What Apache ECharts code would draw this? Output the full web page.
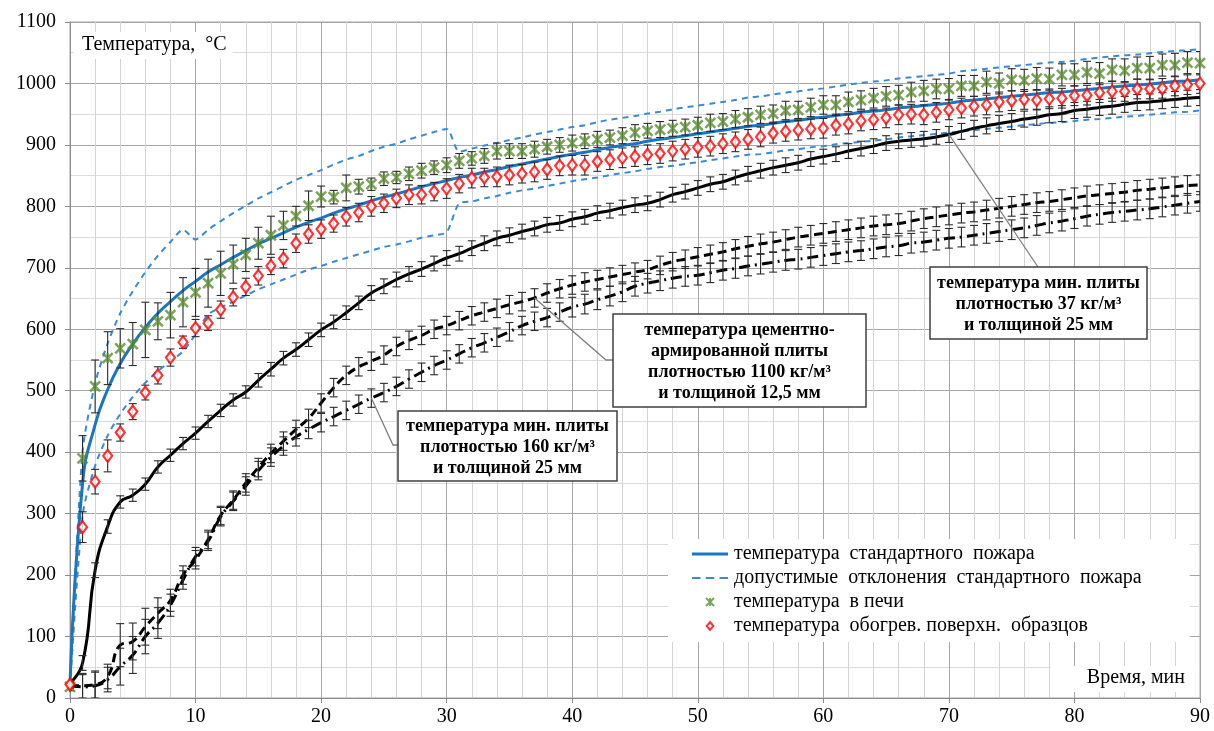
<!DOCTYPE html>
<html>
<head>
<meta charset="utf-8">
<script src="https://cdn.jsdelivr.net/npm/echarts@6/dist/echarts.min.js"></script>
<style>
  html, body { margin: 0; padding: 0; background: #ffffff; }
  #chart { width: 1214px; height: 731px; }
</style>
</head>
<body>
<div id="chart"></div>
<script>
// Время испытания, мин (отсчёты каждую минуту)
const minutes = [
  0, 1, 2, 3, 4, 5, 6, 7, 8, 9,
  10, 11, 12, 13, 14, 15, 16, 17, 18, 19,
  20, 21, 22, 23, 24, 25, 26, 27, 28, 29,
  30, 31, 32, 33, 34, 35, 36, 37, 38, 39,
  40, 41, 42, 43, 44, 45, 46, 47, 48, 49,
  50, 51, 52, 53, 54, 55, 56, 57, 58, 59,
  60, 61, 62, 63, 64, 65, 66, 67, 68, 69,
  70, 71, 72, 73, 74, 75, 76, 77, 78, 79,
  80, 81, 82, 83, 84, 85, 86, 87, 88, 89,
  90
];

// Стандартный температурный режим пожара, °C
const standardFire = [
  20, 349, 445, 502, 544, 576, 603, 626, 645, 663,
  678, 693, 705, 717, 728, 739, 748, 757, 766, 774,
  781, 789, 796, 802, 809, 815, 820, 826, 832, 837,
  842, 847, 851, 856, 860, 865, 869, 873, 877, 881,
  885, 888, 892, 896, 899, 902, 906, 909, 912, 915,
  918, 921, 924, 927, 930, 932, 935, 938, 940, 943,
  945, 948, 950, 953, 955, 957, 960, 962, 964, 966,
  968, 971, 973, 975, 977, 979, 981, 983, 985, 986,
  988, 990, 992, 994, 996, 997, 999, 1001, 1003, 1004,
  1006
];

// Допустимые отклонения: верхняя и нижняя границы, °C
const toleranceUpper = [
  23, 401, 512, 577, 626, 662, 693, 720, 742, 762,
  746, 762, 776, 789, 801, 813, 823, 833, 843, 851,
  859, 868, 876, 882, 890, 897, 902, 909, 915, 921,
  926, 889, 894, 899, 903, 908, 912, 917, 921, 925,
  929, 932, 937, 941, 944, 947, 951, 954, 958, 961,
  964, 967, 970, 973, 977, 979, 982, 985, 987, 990,
  992, 995, 998, 1001, 1003, 1005, 1008, 1010, 1012, 1014,
  1016, 1020, 1022, 1024, 1026, 1028, 1030, 1032, 1034, 1035,
  1037, 1040, 1042, 1044, 1046, 1047, 1049, 1051, 1053, 1054,
  1056
];
const toleranceLower = [
  17, 297, 378, 427, 462, 490, 513, 532, 548, 564,
  592, 624, 635, 645, 655, 665, 673, 681, 689, 697,
  703, 710, 716, 722, 728, 734, 738, 743, 749, 753,
  758, 805, 808, 813, 817, 822, 826, 829, 833, 837,
  841, 844, 847, 851, 854, 857, 861, 864, 866, 869,
  872, 875, 878, 881, 884, 885, 888, 891, 893, 896,
  898, 901, 903, 905, 907, 909, 912, 914, 916, 918,
  920, 922, 924, 926, 928, 930, 932, 934, 936, 937,
  939, 941, 942, 944, 946, 947, 949, 951, 953, 954,
  956
];

// Температура в печи и её разброс (±), °C
const furnace = [
  18, 390, 507, 553, 569, 576, 599, 613, 623, 644,
  660, 675, 691, 706, 721, 740, 753, 769, 784, 801,
  816, 815, 830, 832, 836, 845, 847, 853, 858, 863,
  867, 874, 878, 882, 890, 890, 890, 893, 897, 900,
  903, 906, 909, 912, 915, 920, 923, 925, 927, 929,
  932, 936, 938, 942, 945, 949, 951, 956, 957, 961,
  965, 965, 970, 973, 976, 979, 981, 986, 988, 991,
  991, 996, 996, 1002, 1000, 1006, 1005, 1008, 1007, 1014,
  1014, 1018, 1016, 1022, 1021, 1025, 1025, 1030, 1030, 1034,
  1033
];
const furnaceErr = [
  6, 37, 43, 43, 32, 35, 45, 30, 37, 40,
  39, 39, 36, 31, 27, 26, 31, 23, 16, 24,
  17, 11, 21, 12, 10, 11, 10, 11, 12, 11,
  12, 12, 11, 12, 13, 12, 12, 13, 12, 12,
  13, 12, 13, 12, 13, 13, 12, 13, 13, 13,
  13, 14, 13, 14, 14, 14, 14, 15, 14, 15,
  15, 15, 16, 15, 16, 16, 16, 16, 17, 16,
  17, 17, 17, 18, 17, 18, 18, 18, 18, 18,
  18, 18, 18, 18, 19, 18, 19, 18, 19, 18,
  19
];

// Температура обогреваемой поверхности образцов и её разброс (±), °C
const surface = [
  22, 278, 352, 394, 432, 466, 497, 525, 554, 579,
  602, 610, 632, 652, 669, 687, 703, 715, 740, 755,
  763, 772, 783, 790, 800, 805, 813, 819, 819, 824,
  829, 837, 846, 847, 848, 851, 853, 856, 860, 866,
  867, 867, 873, 876, 879, 881, 884, 886, 890, 893,
  896, 898, 902, 905, 909, 913, 919, 922, 924, 926,
  927, 932, 934, 939, 941, 944, 949, 950, 949, 953,
  957, 960, 963, 965, 970, 972, 974, 973, 975, 976,
  980, 981, 985, 987, 987, 991, 991, 992, 996, 998,
  1000
];
const surfaceErr = [
  6, 25, 20, 26, 14, 13, 12, 14, 14, 10,
  14, 12, 14, 14, 14, 15, 14, 15, 15, 15,
  15, 14, 15, 15, 16, 15, 15, 16, 15, 15,
  16, 15, 16, 15, 16, 16, 15, 16, 16, 16,
  16, 16, 16, 16, 16, 16, 16, 16, 16, 16,
  16, 16, 16, 16, 16, 16, 16, 16, 16, 16,
  16, 16, 16, 16, 16, 16, 16, 16, 16, 16,
  16, 16, 16, 16, 16, 16, 16, 16, 16, 16,
  16, 16, 16, 16, 16, 16, 16, 16, 16, 16,
  16
];

// Минераловатная плита 37 кг/м³, 25 мм (сплошная линия)
const plate37 = [
  24, 57, 208, 279, 319, 330, 348, 376, 395, 414,
  431, 450, 468, 485, 498, 517, 535, 553, 567, 583,
  599, 612, 627, 643, 659, 670, 681, 690, 698, 707,
  716, 723, 732, 740, 748, 753, 759, 764, 770, 773,
  779, 783, 789, 793, 798, 802, 805, 811, 819, 824,
  830, 836, 840, 847, 853, 858, 863, 867, 871, 877,
  881, 885, 890, 894, 898, 903, 906, 908, 910, 913,
  917, 922, 927, 931, 935, 938, 942, 945, 949, 951,
  956, 958, 961, 963, 966, 969, 970, 972, 974, 976,
  977
];
const plate37Err = [
  4, 12, 12, 11, 10, 10, 10, 10, 10, 10,
  10, 10, 10, 10, 10, 11, 11, 11, 11, 11,
  11, 11, 11, 11, 12, 12, 12, 12, 12, 12,
  12, 12, 12, 12, 12, 12, 12, 12, 12, 12,
  12, 12, 12, 12, 12, 12, 12, 12, 12, 12,
  12, 12, 12, 12, 12, 12, 12, 12, 12, 12,
  12, 12, 12, 12, 12, 12, 12, 12, 12, 12,
  13, 13, 13, 13, 13, 13, 13, 13, 13, 13,
  13, 13, 13, 13, 13, 13, 13, 13, 13, 13,
  13
];

// Цементно-армированная плита 1100 кг/м³, 12,5 мм (штриховая линия)
const cementPlate = [
  20, 20, 22, 35, 86, 92, 116, 138, 159, 200,
  225, 258, 297, 322, 350, 375, 398, 418, 437, 455,
  480, 505, 525, 539, 548, 558, 572, 582, 590, 600,
  606, 614, 622, 628, 634, 640, 645, 651, 659, 666,
  672, 677, 681, 685, 689, 693, 697, 704, 710, 714,
  718, 722, 726, 731, 735, 739, 742, 746, 750, 753,
  756, 759, 762, 765, 768, 770, 772, 776, 780, 783,
  786, 789, 791, 794, 797, 800, 803, 806, 808, 811,
  814, 817, 819, 821, 823, 826, 828, 830, 832, 834,
  835
];
const cementErr = [
  4, 20, 22, 20, 35, 30, 30, 25, 18, 15,
  15, 15, 15, 15, 15, 15, 15, 15, 15, 15,
  15, 15, 15, 15, 15, 15, 15, 15, 15, 15,
  15, 15, 15, 15, 15, 15, 15, 15, 15, 15,
  15, 15, 15, 15, 15, 15, 15, 15, 15, 15,
  15, 15, 15, 15, 16, 16, 16, 16, 16, 16,
  16, 16, 16, 16, 16, 16, 16, 16, 16, 16,
  16, 16, 16, 16, 16, 16, 16, 16, 16, 16,
  16, 16, 16, 16, 16, 16, 16, 16, 16, 16,
  16
];

// Минераловатная плита 160 кг/м³, 25 мм (штрихпунктирная линия)
const plate160 = [
  22, 18, 20, 30, 51, 70, 100, 122, 151, 192,
  230, 255, 295, 320, 345, 370, 392, 410, 425, 437,
  448, 458, 468, 478, 488, 497, 507, 519, 530, 541,
  550, 560, 570, 578, 587, 596, 606, 613, 619, 628,
  636, 641, 648, 654, 661, 670, 675, 679, 683, 686,
  688, 692, 696, 699, 703, 706, 709, 712, 714, 717,
  720, 723, 726, 728, 731, 734, 736, 740, 742, 745,
  748, 750, 753, 756, 759, 762, 765, 769, 773, 776,
  780, 784, 787, 790, 792, 794, 796, 799, 802, 805,
  808
];
const plate160Err = [
  4, 20, 22, 20, 30, 30, 28, 25, 18, 15,
  15, 15, 15, 15, 15, 15, 15, 15, 15, 15,
  15, 15, 15, 15, 15, 15, 15, 15, 15, 15,
  15, 15, 15, 15, 15, 15, 15, 15, 15, 15,
  16, 16, 16, 16, 16, 16, 16, 16, 16, 16,
  16, 16, 16, 16, 16, 16, 16, 16, 16, 16,
  16, 16, 16, 16, 16, 16, 16, 16, 16, 16,
  16, 16, 16, 16, 16, 16, 16, 16, 16, 16,
  16, 16, 16, 16, 16, 16, 16, 16, 16, 16,
  16
];

// Подписи
const legendNames = [
  'температура  стандартного  пожара',
  'допустимые  отклонения  стандартного  пожара',
  'температура  в печи',
  'температура  обогрев. поверхн.  образцов'
];
const yTitle = 'Температура,  °C';
const xTitle = 'Время, мин';
const note37 = ['температура мин. плиты', 'плотностью 37 кг/м³', 'и толщиной 25 мм'];
const noteCement = ['температура цементно-', 'армированной плиты', 'плотностью 1100 кг/м³', 'и толщиной 12,5 мм'];
const note160 = ['температура мин. плиты', 'плотностью 160 кг/м³', 'и толщиной 25 мм'];

const SERIF = '"Liberation Serif", "Times New Roman", serif';
const starPath = 'path://M0,0L10,10M10,0L0,10M5,0L5,10';
const solidIcon = 'path://M0,0H36V3H0Z';
const dashIcon = 'path://M0,0H8V2H0ZM13,0H21V2H13ZM26,0H34V2H26Z';
const diamondIcon = 'path://M5,0L10,6L5,12L0,6Z';

const pairs = (arr) => minutes.map((t, i) => [t, arr[i]]);

function errorBars(values, errs, z) {
  return {
    type: 'custom',
    silent: true,
    z: z,
    clip: true,
    data: minutes.map((t, i) => [t, values[i] - errs[i], values[i] + errs[i]]),
    encode: { x: 0, y: [1, 2] },
    renderItem: function (params, api) {
      const lo = api.coord([api.value(0), api.value(1)]);
      const hi = api.coord([api.value(0), api.value(2)]);
      const w = 4;
      const st = { stroke: '#2b2b2b', lineWidth: 1.1 };
      return {
        type: 'group',
        children: [
          { type: 'line', shape: { x1: lo[0], y1: lo[1], x2: hi[0], y2: hi[1] }, style: st },
          { type: 'line', shape: { x1: lo[0] - w, y1: lo[1], x2: lo[0] + w, y2: lo[1] }, style: st },
          { type: 'line', shape: { x1: hi[0] - w, y1: hi[1], x2: hi[0] + w, y2: hi[1] }, style: st }
        ]
      };
    }
  };
}

const chart = echarts.init(document.getElementById('chart'), null, { renderer: 'canvas' });

const option = {
  animation: false,
  backgroundColor: '#ffffff',
  grid: { left: 70, right: 14, top: 22, bottom: 33, show: true, borderColor: '#a6a6a6', borderWidth: 1, backgroundColor: 'transparent' },
  xAxis: {
    type: 'value', min: 0, max: 90, interval: 10,
    axisLine: { show: true, onZero: false, lineStyle: { color: '#8c8c8c', width: 1 } },
    axisTick: { show: true, length: 5, lineStyle: { color: '#8c8c8c' } },
    axisLabel: { fontFamily: SERIF, fontSize: 20, color: '#000', margin: 9, formatter: (v) => String(v) },
    splitLine: { show: true, lineStyle: { color: '#a6a6a6', width: 1 } },
    minorTick: { show: false, splitNumber: 5 },
    minorSplitLine: { show: true, lineStyle: { color: '#d3d3d3', width: 1 } }
  },
  yAxis: {
    type: 'value', min: 0, max: 1100, interval: 100,
    axisLine: { show: true, onZero: false, lineStyle: { color: '#8c8c8c', width: 1 } },
    axisTick: { show: true, length: 5, lineStyle: { color: '#8c8c8c' } },
    axisLabel: { fontFamily: SERIF, fontSize: 20, color: '#000', margin: 14, formatter: (v) => String(v) },
    splitLine: { show: true, lineStyle: { color: '#a6a6a6', width: 1 } },
    minorTick: { show: false, splitNumber: 2 },
    minorSplitLine: { show: true, lineStyle: { color: '#dcdcdc', width: 1 } }
  },
  legend: {
    orient: 'vertical',
    left: 668, top: 539,
    padding: [5, 48, 6, 24],
    itemWidth: 36, itemHeight: 8, itemGap: 4,
    backgroundColor: '#ffffff',
    selectedMode: false,
    textStyle: { fontFamily: SERIF, fontSize: 20, color: '#000', padding: [0, 0, 0, 1] },
    data: [
      { name: legendNames[0], icon: solidIcon, itemStyle: { color: '#1b76c0' } },
      { name: legendNames[1], icon: dashIcon, itemStyle: { color: '#3a8ad3' } },
      { name: legendNames[2], icon: starPath, itemStyle: { color: 'rgba(0,0,0,0)', borderColor: '#5b8c32', borderWidth: 2 } },
      { name: legendNames[3], icon: diamondIcon, itemStyle: { color: '#ffffff', borderColor: '#ff0000', borderWidth: 2 } }
    ]
  },
  series: [
    {
      name: legendNames[1], type: 'line', data: pairs(toleranceUpper), showSymbol: false, symbol: 'none',
      smooth: 0.25, z: 2, lineStyle: { color: '#3a8ad3', width: 2, type: [6, 5] }, itemStyle: { color: '#3a8ad3' }
    },
    {
      name: legendNames[1], type: 'line', data: pairs(toleranceLower), showSymbol: false, symbol: 'none',
      smooth: 0.25, z: 2, lineStyle: { color: '#3a8ad3', width: 2, type: [6, 5] }, itemStyle: { color: '#3a8ad3' }
    },
    {
      name: legendNames[0], type: 'line', data: pairs(standardFire), showSymbol: false, symbol: 'none',
      smooth: 0.5, z: 3, lineStyle: { color: '#1b76c0', width: 3 }, itemStyle: { color: '#1b76c0' }
    },
    {
      name: 'плита 160', type: 'line', data: pairs(plate160), showSymbol: false, symbol: 'none',
      smooth: 0.5, z: 3, lineStyle: { color: '#000', width: 3, type: [11, 5, 2, 5] }
    },
    {
      name: 'плита 1100', type: 'line', data: pairs(cementPlate), showSymbol: false, symbol: 'none',
      smooth: 0.5, z: 3, lineStyle: { color: '#000', width: 3, type: [9, 5] }
    },
    {
      name: 'плита 37', type: 'line', data: pairs(plate37), showSymbol: false, symbol: 'none',
      smooth: 0.5, z: 3, lineStyle: { color: '#000', width: 3 }
    },
    errorBars(plate160, plate160Err, 4),
    errorBars(cementPlate, cementErr, 4),
    errorBars(plate37, plate37Err, 4),
    errorBars(furnace, furnaceErr, 4),
    errorBars(surface, surfaceErr, 4),
    {
      name: legendNames[2], type: 'scatter', data: pairs(furnace), symbol: starPath, symbolSize: 10, z: 5,
      itemStyle: { color: 'rgba(0,0,0,0)', borderColor: '#5b8c32', borderWidth: 2.5 }
    },
    {
      name: legendNames[3], type: 'scatter', data: pairs(surface), symbol: 'diamond', symbolSize: [9, 12], z: 6,
      itemStyle: { color: '#ffffff', borderColor: '#ff0000', borderWidth: 2.2 }
    }
  ]
};

chart.setOption(option);

// Подписи осей и выноски с пояснениями
function noteBox(lines, x, y, w, h, anchor, elbow) {
  const pts = elbow.concat([anchor]);
  return [
    {
      type: 'polyline', z: 20, silent: true,
      shape: { points: pts },
      style: { stroke: '#7f7f7f', lineWidth: 1.3, fill: null }
    },
    {
      type: 'rect', z: 21, silent: true,
      shape: { x: x, y: y, width: w, height: h },
      style: { fill: '#ffffff', stroke: '#404040', lineWidth: 1.5 }
    },
    {
      type: 'text', z: 22, silent: true,
      x: x + w / 2, y: y + h / 2 + 1,
      style: {
        text: lines.join('\n'), fill: '#000', font: 'bold 18px ' + SERIF,
        align: 'center', verticalAlign: 'middle', lineHeight: 21
      }
    }
  ];
}

const px = (t, v) => chart.convertToPixel({ gridIndex: 0 }, [t, v]);
const a37 = px(70, plate37[70]);
const aCem = px(37, cementPlate[37]);
const a160 = px(24, plate160[24]);

const graphics = []
  .concat(noteBox(note37, 930, 267, 217, 72, a37, [[1038, 267]]))
  .concat(noteBox(noteCement, 613, 314, 253, 93, aCem, [[613, 360], [606, 360]]))
  .concat(noteBox(note160, 398, 411, 219, 70, a160, [[398, 445], [393, 445]]));

graphics.push({
  type: 'text', z: 25, silent: true, left: 74, top: 32,
  style: { text: yTitle, font: '20px ' + SERIF, fill: '#000', backgroundColor: '#ffffff', padding: [3, 6, 4, 8] }
});
graphics.push({
  type: 'text', z: 25, silent: true, right: 15, top: 666,
  style: { text: xTitle, font: '20px ' + SERIF, fill: '#000', backgroundColor: '#ffffff', padding: [2, 14, 4, 36] }
});

chart.setOption({ graphic: graphics });
</script>
</body>
</html>
